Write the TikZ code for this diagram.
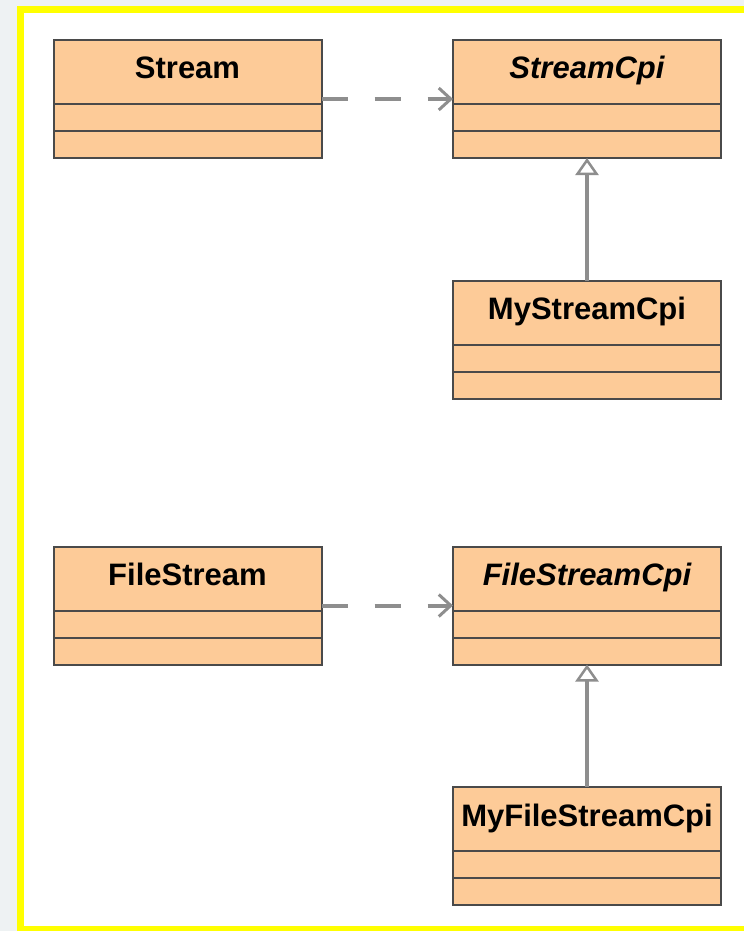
\documentclass[tikz,border=0pt]{standalone}
\usepackage{fontspec}
\setmainfont{Liberation Sans}
\usetikzlibrary{arrows.meta,calc}

\definecolor{pagegrey}{HTML}{EEF2F3}
\definecolor{frameyellow}{HTML}{FFFF00}
\definecolor{classfill}{HTML}{FDCB98}
\definecolor{classedge}{HTML}{4A4A4A}
\definecolor{linkgrey}{HTML}{8E8E8E}

\tikzset{
  classbox/.style={draw=classedge, fill=classfill, line width=2pt,
    minimum width=268pt, minimum height=118pt, inner sep=0pt, outer sep=0pt},
  classname/.style={anchor=base, inner sep=0pt, font=\fontsize{31}{31}\selectfont\bfseries},
  abstractname/.style={classname, font=\fontsize{31}{31}\selectfont\bfseries\itshape},
  divider/.style={draw=classedge, line width=2pt},
  depends/.style={draw=linkgrey, line width=4pt, dash pattern=on 26pt off 27pt,
    -{Straight Barb[length=12pt, width=22pt, line width=3pt]}},
  extends/.style={draw=linkgrey, line width=4pt,
    -{Triangle[open, fill=white, length=17pt, width=23pt, line width=2.5pt]}}
}

% a class box with name and two empty compartments
\newcommand{\umlclass}[4]{%
  \node[classbox] (#1) at (#2) {};
  \node[#3] (#1-name) at ($(#1.north)+(0,39)$) {#4};
  \draw[divider] ($(#1.north west)+(0,64)$) -- ($(#1.north east)+(0,64)$);
  \draw[divider] ($(#1.north west)+(0,91)$) -- ($(#1.north east)+(0,91)$);
}

\begin{document}
\begin{tikzpicture}[x=1pt, y=-1pt]
  % page background and yellow frame
  \fill[pagegrey] (0,0) rectangle (744,931);
  \fill[frameyellow] (17,6) rectangle (744,931);
  \fill[white] (24,13) rectangle (744,926);
  \useasboundingbox (0,0) rectangle (744,931);

  % upper group
  \umlclass{stream}{187.5,99}{classname}{Stream}
  \umlclass{streamcpi}{587,99}{abstractname}{StreamCpi}
  \umlclass{mystreamcpi}{587,339.5}{classname}{MyStreamCpi}

  % lower group
  \umlclass{filestream}{187.5,605.5}{classname}{FileStream}
  \umlclass{filestreamcpi}{587,605.5}{abstractname}{FileStreamCpi}
  \umlclass{myfilestreamcpi}{587,846}{classname}{MyFileStreamCpi}

  % dependencies
  \draw[depends] (stream.east) -- (streamcpi.west);
  \draw[depends] (filestream.east) -- (filestreamcpi.west);

  % generalisations
  \draw[extends] (mystreamcpi.north) -- (streamcpi.south);
  \draw[extends] (myfilestreamcpi.north) -- (filestreamcpi.south);
\end{tikzpicture}
\end{document}
